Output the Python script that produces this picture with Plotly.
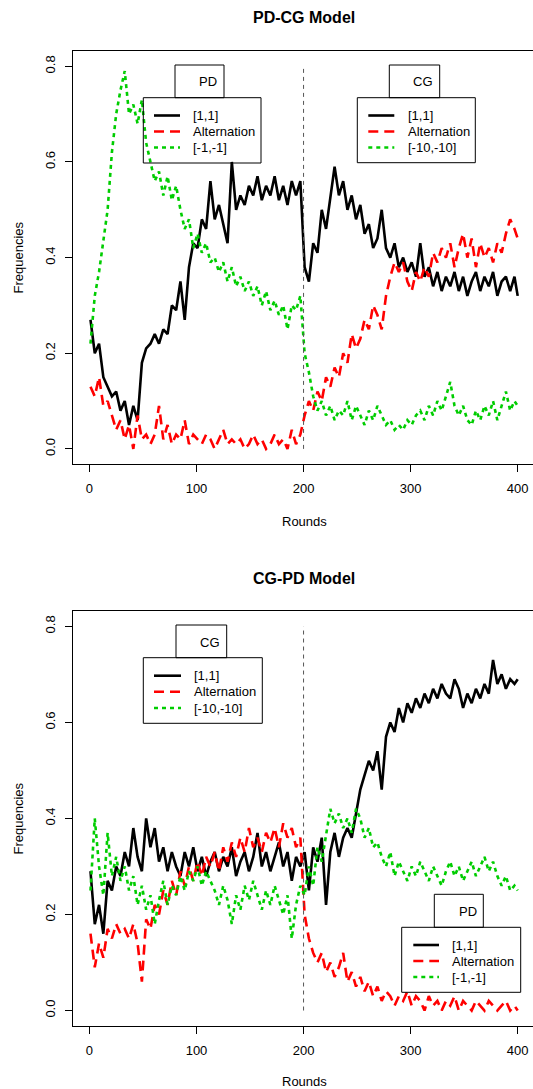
import plotly.graph_objects as go

W, H = 533, 1089

rounds = list(range(1, 401, 4)) + [400]
tick_vals = [0, 100, 200, 300, 400]
y_tick_vals = [0.0, 0.2, 0.4, 0.6, 0.8]
y_tick_text = ["0.0", "0.2", "0.4", "0.6", "0.8"]

# ---------- PD-CG model ----------
pdcg_coop = [0.27,0.20,0.22,0.15,0.13,0.11,0.12,0.08,0.10,0.05,
             0.09,0.06,0.18,0.21,0.22,0.24,0.22,0.25,0.24,0.30,
             0.29,0.35,0.27,0.38,0.43,0.42,0.48,0.46,0.56,0.48,
             0.51,0.47,0.43,0.60,0.50,0.53,0.51,0.55,0.53,0.57,
             0.52,0.55,0.53,0.57,0.52,0.55,0.51,0.56,0.53,0.56,
             0.38,0.35,0.43,0.41,0.50,0.46,0.53,0.59,0.53,0.56,
             0.50,0.53,0.48,0.51,0.45,0.47,0.42,0.44,0.50,0.42,
             0.40,0.43,0.38,0.40,0.37,0.39,0.36,0.43,0.36,0.38,
             0.34,0.37,0.33,0.36,0.34,0.37,0.33,0.36,0.32,0.35,
             0.37,0.33,0.36,0.34,0.37,0.32,0.35,0.36,0.33,0.36,
             0.32]
pdcg_alt = [0.13,0.11,0.15,0.09,0.10,0.07,0.04,0.06,0.02,0.05,
            0.00,0.07,0.02,0.03,0.01,0.03,0.09,0.02,0.05,0.01,
            0.03,0.02,0.06,0.01,0.03,0.02,0.01,0.03,0.02,0.00,
            0.02,0.04,0.01,0.02,0.01,0.02,0.00,0.01,0.03,0.01,
            0.02,0.00,0.01,0.03,0.01,0.02,0.00,0.04,0.01,0.03,
            0.07,0.10,0.08,0.12,0.10,0.15,0.13,0.17,0.15,0.20,
            0.18,0.24,0.21,0.23,0.27,0.25,0.30,0.28,0.25,0.32,
            0.36,0.39,0.37,0.39,0.35,0.33,0.37,0.35,0.38,0.36,
            0.41,0.39,0.42,0.40,0.43,0.38,0.42,0.45,0.40,0.44,
            0.38,0.43,0.40,0.42,0.39,0.43,0.41,0.45,0.48,0.46,
            0.44]
pdcg_defect = [0.22,0.32,0.37,0.43,0.50,0.62,0.70,0.75,0.79,0.70,
               0.72,0.68,0.73,0.64,0.60,0.56,0.58,0.53,0.57,0.52,
               0.55,0.50,0.46,0.48,0.42,0.45,0.41,0.43,0.39,0.40,
               0.37,0.39,0.35,0.38,0.34,0.36,0.33,0.35,0.32,0.34,
               0.30,0.33,0.29,0.31,0.28,0.30,0.25,0.30,0.29,0.32,
               0.20,0.16,0.11,0.08,0.10,0.07,0.09,0.06,0.08,0.07,
               0.10,0.06,0.09,0.07,0.05,0.08,0.06,0.09,0.07,0.05,
               0.06,0.04,0.05,0.04,0.06,0.05,0.07,0.08,0.06,0.09,
               0.07,0.10,0.08,0.11,0.14,0.09,0.07,0.09,0.06,0.05,
               0.08,0.06,0.09,0.07,0.10,0.06,0.09,0.12,0.08,0.10,
               0.09]

# ---------- CG-PD model ----------
cgpd_coop = [0.29,0.18,0.22,0.16,0.27,0.25,0.30,0.28,0.33,0.30,
             0.38,0.32,0.29,0.40,0.34,0.38,0.31,0.34,0.29,0.33,
             0.30,0.28,0.33,0.30,0.34,0.29,0.32,0.28,0.31,0.33,
             0.29,0.32,0.30,0.34,0.28,0.31,0.33,0.29,0.32,0.37,
             0.30,0.33,0.29,0.32,0.35,0.30,0.33,0.27,0.32,0.30,
             0.33,0.25,0.34,0.31,0.36,0.22,0.33,0.37,0.32,0.36,
             0.38,0.36,0.41,0.46,0.49,0.52,0.50,0.54,0.46,0.57,
             0.60,0.58,0.63,0.60,0.64,0.62,0.65,0.63,0.66,0.64,
             0.67,0.65,0.68,0.66,0.65,0.69,0.67,0.63,0.66,0.64,
             0.67,0.65,0.68,0.66,0.73,0.68,0.70,0.67,0.69,0.68,
             0.69]
cgpd_alt = [0.16,0.09,0.14,0.11,0.17,0.15,0.18,0.16,0.17,0.15,
            0.18,0.14,0.06,0.19,0.17,0.22,0.20,0.25,0.22,0.27,
            0.24,0.29,0.26,0.30,0.27,0.31,0.28,0.32,0.30,0.33,
            0.29,0.34,0.31,0.35,0.32,0.36,0.33,0.38,0.34,0.36,
            0.33,0.37,0.35,0.38,0.34,0.39,0.36,0.38,0.34,0.36,
            0.20,0.15,0.12,0.10,0.12,0.08,0.10,0.07,0.09,0.12,
            0.06,0.08,0.05,0.07,0.04,0.06,0.03,0.05,0.02,0.04,
            0.03,0.01,0.03,0.02,0.04,0.01,0.03,0.02,0.00,0.03,
            0.01,0.02,0.00,0.02,0.01,0.03,0.00,0.02,0.01,0.00,
            0.02,0.01,0.00,0.02,0.01,0.00,0.01,0.02,0.00,0.01,
            0.00]
cgpd_defect = [0.25,0.40,0.30,0.24,0.37,0.28,0.32,0.27,0.30,0.25,
               0.28,0.22,0.26,0.21,0.24,0.18,0.23,0.27,0.22,0.26,
               0.24,0.28,0.25,0.29,0.27,0.30,0.26,0.29,0.27,0.25,
               0.22,0.26,0.23,0.18,0.24,0.21,0.26,0.23,0.27,0.24,
               0.21,0.25,0.22,0.26,0.23,0.20,0.24,0.15,0.22,0.26,
               0.24,0.30,0.26,0.34,0.31,0.37,0.42,0.39,0.41,0.38,
               0.40,0.37,0.42,0.40,0.36,0.38,0.34,0.35,0.32,0.30,
               0.33,0.28,0.31,0.29,0.27,0.30,0.28,0.31,0.29,0.27,
               0.30,0.28,0.26,0.29,0.31,0.28,0.30,0.27,0.29,0.31,
               0.28,0.30,0.32,0.29,0.31,0.28,0.26,0.28,0.25,0.26,
               0.25]

BLACK, RED, GREEN = "#000000", "#FF0000", "#00CD00"
FONT = "Liberation Sans, Arial, Helvetica, sans-serif"
styles = [dict(color=BLACK, width=2.6, dash="solid"),
          dict(color=RED, width=2.6, dash="10px,6px"),
          dict(color=GREEN, width=2.6, dash="4px,4px")]

def X(px):
    return px / W

def Y(py):
    return 1 - py / H

fig = go.Figure()
panels = [("x", "y", [pdcg_coop, pdcg_alt, pdcg_defect]),
          ("x2", "y2", [cgpd_coop, cgpd_alt, cgpd_defect])]
for xa, ya, series in panels:
    for vals, st in zip(series, styles):
        fig.add_trace(go.Scatter(x=rounds, y=vals, mode="lines", xaxis=xa, yaxis=ya,
                                 line=dict(color=st["color"], width=st["width"], dash=st["dash"]),
                                 hoverinfo="skip", showlegend=False))

xrange = [-14.96, 414.3]
yrange = [-0.032, 0.832]
xdom = [X(73.4), 1.0]

def xaxis_cfg(anchor):
    return dict(domain=xdom, range=xrange, anchor=anchor, tickvals=tick_vals,
                ticks="outside", ticklen=7, tickwidth=1, tickcolor="black",
                ticklabelstandoff=5,
                showline=True, linecolor="black", linewidth=1, mirror=True,
                showgrid=False, zeroline=False, fixedrange=True, automargin=False,
                tickfont=dict(family=FONT, size=13, color="black"))

def yaxis_cfg(anchor, dom):
    return dict(domain=dom, range=yrange, anchor=anchor, tickvals=y_tick_vals,
                ticktext=y_tick_text, tickangle=-90,
                ticks="outside", ticklen=7, tickwidth=1, tickcolor="black",
                ticklabelstandoff=5,
                showline=True, linecolor="black", linewidth=1, mirror=False,
                showgrid=False, zeroline=False, fixedrange=True, automargin=False,
                tickfont=dict(family=FONT, size=13, color="black"))

shapes = []
annotations = []

def txt(x, y, s, size=13, bold=False, xanchor="center", angle=0):
    annotations.append(dict(x=X(x), y=Y(y), xref="paper", yref="paper", text=("<b>%s</b>" % s) if bold else s,
                            showarrow=False, xanchor=xanchor, yanchor="middle", textangle=angle,
                            font=dict(family=FONT, size=size, color="black")))

def rect(x0, y0, x1, y1):
    shapes.append(dict(type="rect", xref="paper", yref="paper", x0=X(x0), x1=X(x1), y0=Y(y1), y1=Y(y0),
                       line=dict(color="black", width=1), fillcolor="rgba(0,0,0,0)"))

def legend_block(title, tb, lb, ys, lx0, lx1, tx, labels, title_x, title_y):
    rect(*tb)
    txt(title_x, title_y, title)
    rect(*lb)
    for yy, st, lab in zip(ys, styles, labels):
        shapes.append(dict(type="line", xref="paper", yref="paper", x0=X(lx0), x1=X(lx1), y0=Y(yy), y1=Y(yy),
                           line=dict(color=st["color"], width=2.6, dash=st["dash"])))
        txt(tx, yy, lab, xanchor="left")

# top panel
legend_block("PD", (175, 65, 224, 97.7), (143.3, 97.7, 261, 163), [115.5, 131.5, 147.5], 154, 180, 191,
             ["[1,1]", "Alternation", "[-1,-1]"], 208.3, 81.7)
legend_block("CG", (389.3, 65, 439.7, 97.7), (357.3, 97.7, 475.3, 162.7), [115.5, 131.5, 147.5], 368.3, 394.3, 405.7,
             ["[1,1]", "Alternation", "[-10,-10]"], 423.3, 81.7)
# bottom panel
legend_block("CG", (176, 625, 226.7, 657.7), (143.3, 657.7, 262.3, 723.3), [675.7, 691.7, 708], 154, 181, 191.7,
             ["[1,1]", "Alternation", "[-10,-10]"], 210, 642.3)
legend_block("PD", (434.3, 894.3, 483.3, 927.3), (401.7, 927.3, 520.7, 992.3), [945, 961, 977], 413.3, 439, 450,
             ["[1,1]", "Alternation", "[-1,-1]"], 467.8, 911.7)

# regime switch markers
for xr, yr in (("x", "y"), ("x2", "y2")):
    shapes.append(dict(type="line", xref=xr, yref=yr, x0=200, x1=200, y0=0, y1=0.8,
                       line=dict(color="#555555", width=1, dash="4px,4px")))

# titles and axis labels
txt(304, 18, "PD-CG Model", size=16, bold=True)
txt(304, 578, "CG-PD Model", size=16, bold=True)
txt(304, 521.5, "Rounds")
txt(304, 1081, "Rounds")
txt(18, 257.5, "Frequencies", angle=-90)
txt(18, 818.5, "Frequencies", angle=-90)

fig.update_layout(
    width=W, height=H, margin=dict(l=0, r=0, t=0, b=0, autoexpand=False),
    paper_bgcolor="white", plot_bgcolor="white",
    xaxis=xaxis_cfg("y"), yaxis=yaxis_cfg("x", [Y(464.2), Y(51)]),
    xaxis2=xaxis_cfg("y2"), yaxis2=yaxis_cfg("x2", [Y(1025.9), Y(611)]),
    shapes=shapes, annotations=annotations, showlegend=False,
)

fig.write_html("out.html", config={"displayModeBar": False, "staticPlot": True},
               post_script="document.body.style.margin='0';document.body.style.overflow='hidden';")
